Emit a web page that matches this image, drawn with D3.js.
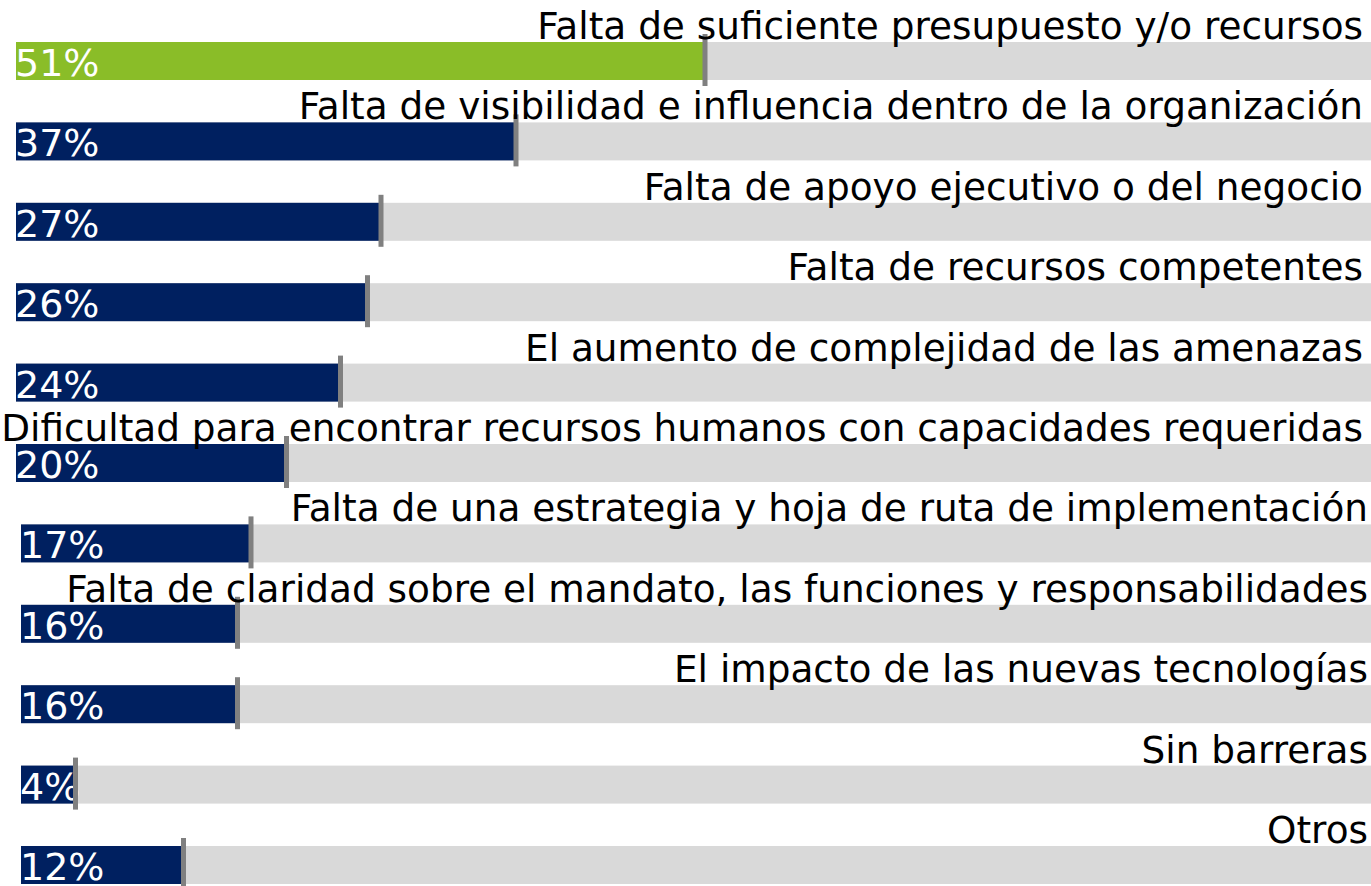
<!DOCTYPE html>
<html>
<head>
<meta charset="utf-8">
<script src="https://cdn.jsdelivr.net/npm/d3@7"></script>
<style>
  body { margin: 0; background: #fff; }
  svg { display: block; font-family: Verdana, "DejaVu Sans", sans-serif; }
</style>
</head>
<body>
<svg width="1371" height="886"></svg>
<script>
// barriers, in the order shown
var categories = [
  "Falta de suficiente presupuesto y/o recursos",
  "Falta de visibilidad e influencia dentro de la organización",
  "Falta de apoyo ejecutivo o del negocio",
  "Falta de recursos competentes",
  "El aumento de complejidad de las amenazas",
  "Dificultad para encontrar recursos humanos con capacidades requeridas",
  "Falta de una estrategia y hoja de ruta de implementación",
  "Falta de claridad sobre el mandato, las funciones y responsabilidades",
  "El impacto de las nuevas tecnologías",
  "Sin barreras",
  "Otros"
];
var values = [51, 37, 27, 26, 24, 20, 17, 16, 16, 4, 12];
var highlight = [true, false, false, false, false, false, false, false, false, false, false];

var svg = d3.select("svg"),
    width = +svg.attr("width"),
    height = +svg.attr("height");

var barH = 38;

var x = d3.scaleLinear().domain([0, 100]).range([0, 1350]);

var y = d3.scalePoint()
    .domain(categories)
    .range([42, 846]);

// the lower rows sit a few pixels further right in the original
function left(i) { return i < 6 ? 16 : 21; }

var rows = svg.selectAll("g.row")
    .data(categories)
    .enter().append("g")
      .attr("class", "row")
      .attr("transform", function(d, i) { return "translate(" + left(i) + "," + y(d) + ")"; });

// track
rows.append("rect")
    .attr("width", function(d, i) { return width - left(i); })
    .attr("height", barH)
    .attr("fill", "#d9d9d9");

// value bar
rows.append("rect")
    .attr("width", function(d, i) { return x(values[i]); })
    .attr("height", barH)
    .attr("fill", function(d, i) { return highlight[i] ? "#8abd28" : "#002060"; });

rows.append("text")
    .attr("x", -1)
    .attr("y", barH - 4)
    .attr("fill", "#fff")
    .style("font-size", "38px")
    .text(function(d, i) { return values[i] + "%"; });

// end marker
rows.append("rect")
    .attr("x", function(d, i) { return x(values[i]) - 2; })
    .attr("y", -8)
    .attr("width", 5)
    .attr("height", barH + 14)
    .attr("fill", "#808080");

rows.append("text")
    .attr("x", 1347)
    .attr("y", -3)
    .attr("text-anchor", "end")
    .attr("fill", "#000")
    .style("font-size", "37.4px")
    .text(function(d) { return d; });
</script>
</body>
</html>
